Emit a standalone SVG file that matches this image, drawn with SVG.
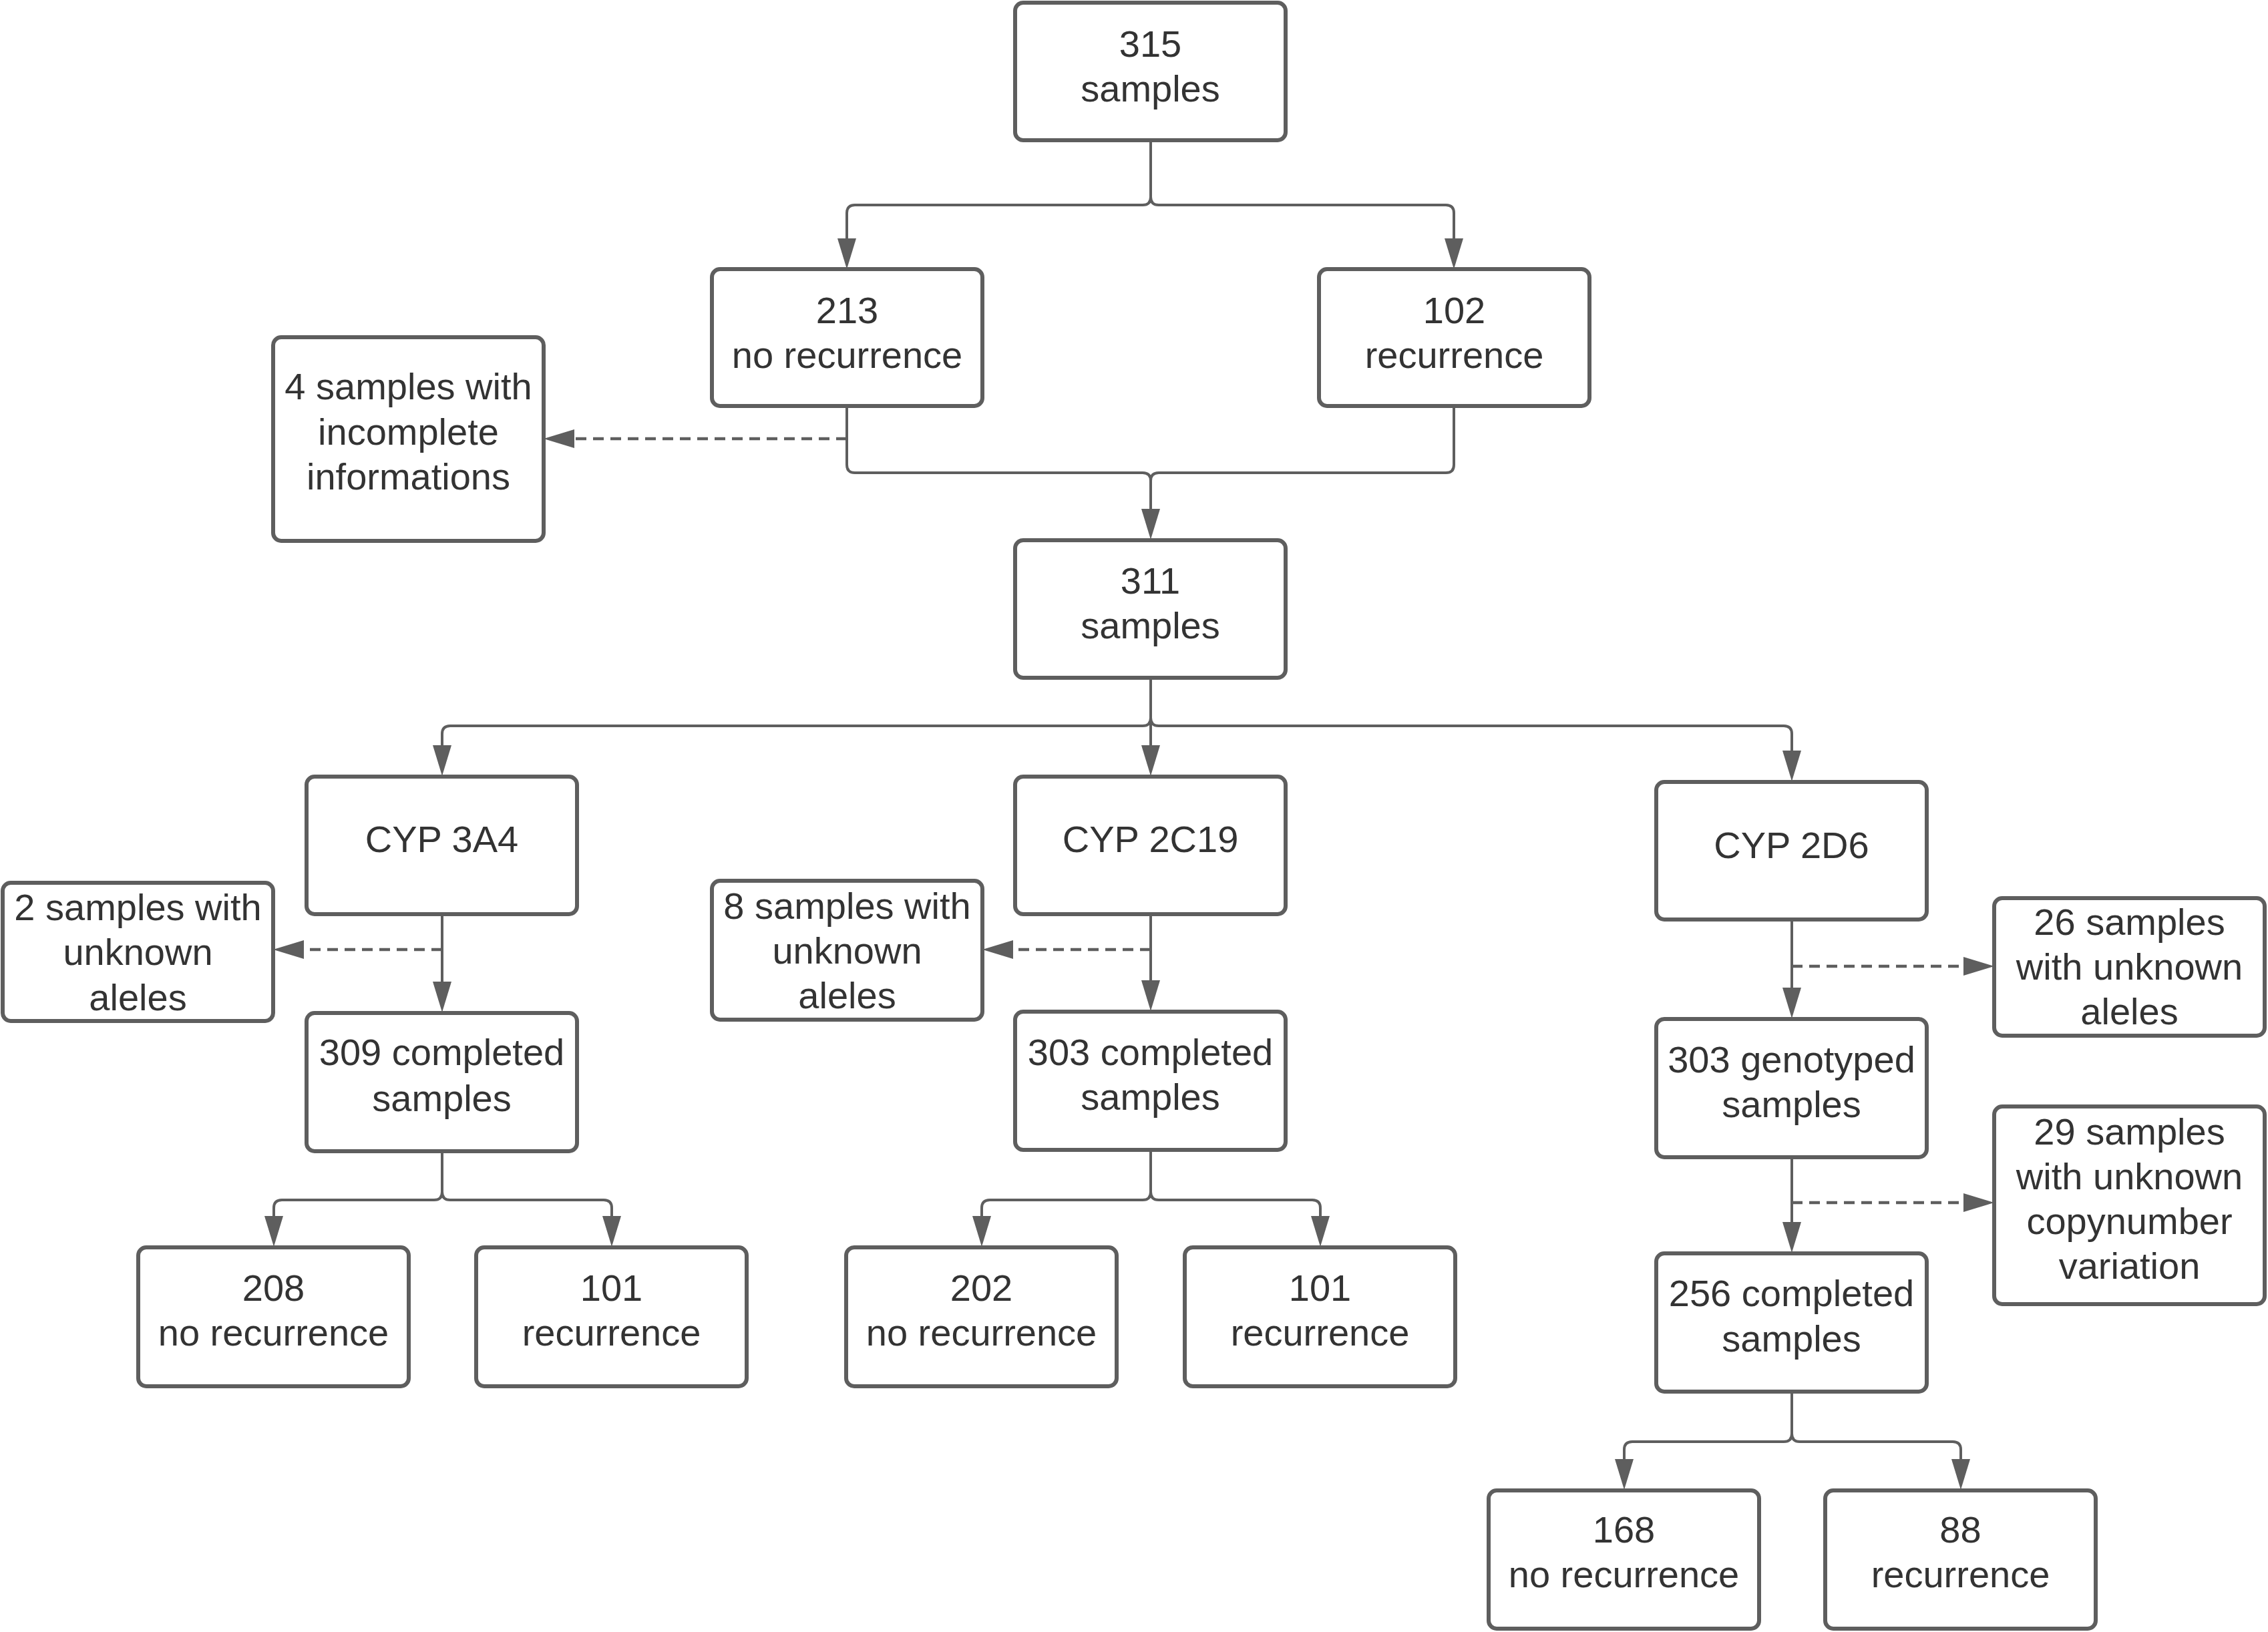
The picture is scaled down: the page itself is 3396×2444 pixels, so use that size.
<svg xmlns="http://www.w3.org/2000/svg" width="3396" height="2444" viewBox="0 0 3396 2444">
<style>
.box{fill:#ffffff;stroke:#5e5e5e;stroke-width:6}
.t{font-family:"Liberation Sans",Arial,sans-serif;font-size:56px;fill:#333333;text-anchor:middle}
.c{fill:none;stroke:#5e5e5e;stroke-width:4}
.d{fill:none;stroke:#5e5e5e;stroke-width:4.5;stroke-dasharray:16 10}
</style>
<defs>
<marker id="ah" markerUnits="userSpaceOnUse" markerWidth="46" markerHeight="28" refX="36" refY="14" orient="auto">
<path d="M0,0 L46,14 L0,28 Z" fill="#5e5e5e"/>
</marker>
</defs>
<rect width="3396" height="2444" fill="#ffffff"/>
<g id="connectors">
<path class="c" d="M1723,210 V295 Q1723,307 1711,307 H1280 Q1268,307 1268,319 V393" marker-end="url(#ah)"/>
<path class="c" d="M1723,210 V295 Q1723,307 1735,307 H2165 Q2177,307 2177,319 V393" marker-end="url(#ah)"/>
<path class="c" d="M1268,608 V696 Q1268,708 1280,708 H1711 Q1723,708 1723,720 V798" marker-end="url(#ah)"/>
<path class="c" d="M2177,608 V696 Q2177,708 2165,708 H1735 Q1723,708 1723,720"/>
<path class="d" d="M1268,657 H824" marker-end="url(#ah)"/>
<path class="c" d="M1723,1015 V1075 Q1723,1087 1711,1087 H674 Q662,1087 662,1099 V1152" marker-end="url(#ah)"/>
<path class="c" d="M1723,1015 V1152" marker-end="url(#ah)"/>
<path class="c" d="M1723,1075 Q1723,1087 1735,1087 H2671 Q2683,1087 2683,1099 V1160" marker-end="url(#ah)"/>
<path class="c" d="M662,1369 V1506" marker-end="url(#ah)"/>
<path class="d" d="M662,1422 H419" marker-end="url(#ah)"/>
<path class="c" d="M1723,1369 V1504" marker-end="url(#ah)"/>
<path class="d" d="M1723,1422 H1481" marker-end="url(#ah)"/>
<path class="c" d="M2683,1377 V1515" marker-end="url(#ah)"/>
<path class="d" d="M2683,1447 H2976" marker-end="url(#ah)"/>
<path class="c" d="M2683,1733 V1866" marker-end="url(#ah)"/>
<path class="d" d="M2683,1801 H2976" marker-end="url(#ah)"/>
<path class="c" d="M662,1724 V1785 Q662,1797 650,1797 H422 Q410,1797 410,1809 V1857" marker-end="url(#ah)"/>
<path class="c" d="M662,1724 V1785 Q662,1797 674,1797 H904 Q916,1797 916,1809 V1857" marker-end="url(#ah)"/>
<path class="c" d="M1723,1722 V1785 Q1723,1797 1711,1797 H1482 Q1470,1797 1470,1809 V1857" marker-end="url(#ah)"/>
<path class="c" d="M1723,1722 V1785 Q1723,1797 1735,1797 H1965 Q1977,1797 1977,1809 V1857" marker-end="url(#ah)"/>
<path class="c" d="M2683,2084 V2147 Q2683,2159 2671,2159 H2444 Q2432,2159 2432,2171 V2221" marker-end="url(#ah)"/>
<path class="c" d="M2683,2084 V2147 Q2683,2159 2695,2159 H2924 Q2936,2159 2936,2171 V2221" marker-end="url(#ah)"/>
</g>
<g id="n315"><rect class="box" x="1520" y="4" width="405" height="206" rx="12"/><text class="t" x="1722.5" y="85">315</text><text class="t" x="1722.5" y="152">samples</text></g>
<g id="n213"><rect class="box" x="1066" y="403" width="405" height="205" rx="12"/><text class="t" x="1268.5" y="484">213</text><text class="t" x="1268.5" y="551">no recurrence</text></g>
<g id="n102"><rect class="box" x="1975" y="403" width="405" height="205" rx="12"/><text class="t" x="2177.5" y="484">102</text><text class="t" x="2177.5" y="551">recurrence</text></g>
<g id="n4"><rect class="box" x="409" y="505" width="405" height="305" rx="12"/><text class="t" x="611.5" y="598">4 samples with</text><text class="t" x="611.5" y="666">incomplete</text><text class="t" x="611.5" y="733">informations</text></g>
<g id="n311"><rect class="box" x="1520" y="809" width="405" height="206" rx="12"/><text class="t" x="1722.5" y="889">311</text><text class="t" x="1722.5" y="956">samples</text></g>
<g id="cyp3a4"><rect class="box" x="459" y="1163" width="405" height="206" rx="12"/><text class="t" x="661.5" y="1276">CYP 3A4</text></g>
<g id="cyp2c19"><rect class="box" x="1520" y="1163" width="405" height="206" rx="12"/><text class="t" x="1722.5" y="1276">CYP 2C19</text></g>
<g id="cyp2d6"><rect class="box" x="2480" y="1171" width="405" height="206" rx="12"/><text class="t" x="2682.5" y="1285">CYP 2D6</text></g>
<g id="n2"><rect class="box" x="4" y="1322" width="405" height="207" rx="12"/><text class="t" x="206.5" y="1378">2 samples with</text><text class="t" x="206.5" y="1445">unknown</text><text class="t" x="206.5" y="1513">aleles</text></g>
<g id="n8"><rect class="box" x="1066" y="1319" width="405" height="208" rx="12"/><text class="t" x="1268.5" y="1376">8 samples with</text><text class="t" x="1268.5" y="1443">unknown</text><text class="t" x="1268.5" y="1510">aleles</text></g>
<g id="n26"><rect class="box" x="2986" y="1345" width="405" height="206" rx="12"/><text class="t" x="3188.5" y="1400">26 samples</text><text class="t" x="3188.5" y="1467">with unknown</text><text class="t" x="3188.5" y="1534">aleles</text></g>
<g id="n309"><rect class="box" x="459" y="1517" width="405" height="207" rx="12"/><text class="t" x="661.5" y="1595">309 completed</text><text class="t" x="661.5" y="1664">samples</text></g>
<g id="n303c"><rect class="box" x="1520" y="1515" width="405" height="207" rx="12"/><text class="t" x="1722.5" y="1595">303 completed</text><text class="t" x="1722.5" y="1662">samples</text></g>
<g id="n303g"><rect class="box" x="2480" y="1526" width="405" height="207" rx="12"/><text class="t" x="2682.5" y="1606">303 genotyped</text><text class="t" x="2682.5" y="1673">samples</text></g>
<g id="n29"><rect class="box" x="2986" y="1657" width="405" height="296" rx="12"/><text class="t" x="3188.5" y="1714">29 samples</text><text class="t" x="3188.5" y="1781">with unknown</text><text class="t" x="3188.5" y="1848">copynumber</text><text class="t" x="3188.5" y="1915">variation</text></g>
<g id="n256"><rect class="box" x="2480" y="1877" width="405" height="207" rx="12"/><text class="t" x="2682.5" y="1956">256 completed</text><text class="t" x="2682.5" y="2024">samples</text></g>
<g id="n208"><rect class="box" x="207" y="1868" width="405" height="208" rx="12"/><text class="t" x="409.5" y="1948">208</text><text class="t" x="409.5" y="2015">no recurrence</text></g>
<g id="n101a"><rect class="box" x="713" y="1868" width="405" height="208" rx="12"/><text class="t" x="915.5" y="1948">101</text><text class="t" x="915.5" y="2015">recurrence</text></g>
<g id="n202"><rect class="box" x="1267" y="1868" width="405" height="208" rx="12"/><text class="t" x="1469.5" y="1948">202</text><text class="t" x="1469.5" y="2015">no recurrence</text></g>
<g id="n101b"><rect class="box" x="1774" y="1868" width="405" height="208" rx="12"/><text class="t" x="1976.5" y="1948">101</text><text class="t" x="1976.5" y="2015">recurrence</text></g>
<g id="n168"><rect class="box" x="2229" y="2232" width="405" height="207" rx="12"/><text class="t" x="2431.5" y="2310">168</text><text class="t" x="2431.5" y="2377">no recurrence</text></g>
<g id="n88"><rect class="box" x="2733" y="2232" width="405" height="207" rx="12"/><text class="t" x="2935.5" y="2310">88</text><text class="t" x="2935.5" y="2377">recurrence</text></g>
</svg>
